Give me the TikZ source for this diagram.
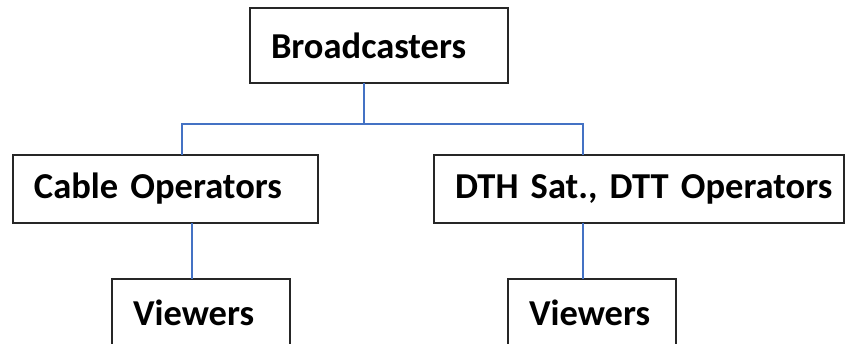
\documentclass[tikz,border=0pt]{standalone}
\usepackage{fontspec}
\setmainfont{Carlito}
\definecolor{linkblue}{RGB}{68,114,196}
\begin{document}
\begin{tikzpicture}[x=1pt,y=-1pt]
\tikzstyle{box}=[draw=black!85, line width=1.3pt, fill=white, anchor=north west, outer sep=0pt, inner xsep=21pt, inner ysep=0pt, minimum height=68pt, align=left, font=\fontsize{36.5}{42}\selectfont\bfseries]
\tikzstyle{link}=[draw=linkblue, line width=1.5pt]
\clip (0,0) rectangle (846,343);
\node [box, text width=216pt, minimum height=75pt] (bc) at (250,8) {Broadcasters};
\node [box, text width=263pt] (cable) at (13,155) {Cable Operators};
\node [box, text width=368pt] (dth) at (434,155) {\mbox{DTH Sat., DTT Operators}};
\node [box, text width=136pt] (vl) at (112,279) {Viewers};
\node [box, text width=126pt] (vr) at (508,279) {Viewers};

\coordinate (split) at (364,124);
\draw [link] ([xshift=-15pt]bc.south) -- (split);
\draw [link] (split) -| ([xshift=16.5pt]cable.north);
\draw [link] (split) -| ([xshift=-56pt]dth.north);
\draw [link] ([xshift=-9pt]vl.north) -- ([xshift=-9pt]vl.north |- cable.south);
\draw [link] ([xshift=-9pt]vr.north) -- ([xshift=-9pt]vr.north |- dth.south);
\end{tikzpicture}
\end{document}
